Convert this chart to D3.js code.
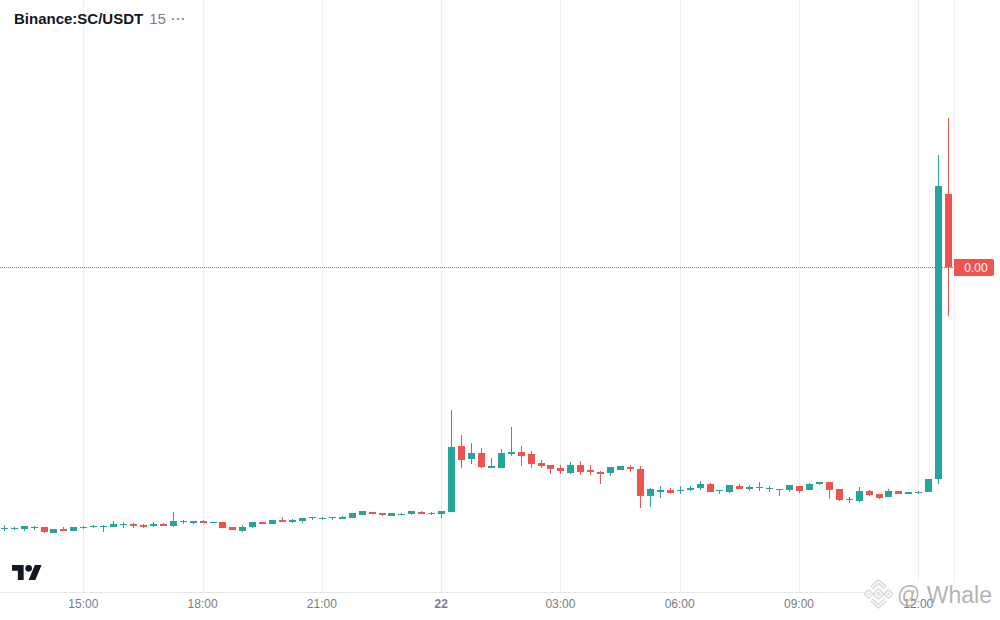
<!DOCTYPE html>
<html><head><meta charset="utf-8">
<script src="https://cdn.jsdelivr.net/npm/d3@7"></script>
<style>html,body{margin:0;padding:0;background:#fff}svg{display:block}text{font-family:"Liberation Sans",Arial,sans-serif}</style>
</head><body><div id="chart"></div>
<script>
// Prices in millionths of a USDT, one candle per 15 minutes from 21 Mar 13:00
const opens=[142,142,142,144,146,134,142,138,144,146,146,146,150,152,150,148,152,148,156,154,158,154,156,146,138,146,156,152,160,156,158,164,162,164,162,164,170,176,174,168,170,172,176,172,172,176,308,282,294,264,264,292,296,292,274,270,264,254,270,260,256,254,260,266,262,208,216,220,218,220,224,232,218,216,228,222,224,222,220,220,228,220,232,236,222,200,198,218,212,206,218,212,214,216,242,812];
const closes=[144,144,148,146,136,142,138,146,146,148,148,152,152,148,146,152,148,158,158,158,154,156,144,140,146,156,152,160,156,160,164,166,164,166,166,174,178,172,170,174,172,178,172,174,178,306,280,294,266,268,294,296,288,272,268,262,258,270,256,256,252,266,268,262,208,222,220,214,220,224,232,216,220,230,222,226,226,224,222,230,218,232,236,220,200,202,218,210,204,218,212,216,216,242,828,665];
const highs=[150,146,148,148,146,142,146,146,148,150,150,158,156,154,152,156,154,176,160,158,160,156,156,146,150,156,156,160,166,162,164,166,166,166,168,174,178,176,174,174,174,178,178,176,178,380,330,314,304,284,302,346,308,298,280,270,270,276,278,270,258,266,268,270,268,224,228,224,228,228,238,234,220,230,232,230,236,228,222,230,228,234,236,236,222,206,226,220,212,222,218,216,218,242,890,964];
const lows=[138,140,138,140,134,134,138,138,142,144,136,146,144,144,144,146,148,146,152,152,154,154,144,140,136,144,152,152,156,154,154,160,160,160,162,164,170,172,168,168,170,170,172,170,164,176,264,272,264,264,264,288,268,264,264,252,252,252,250,250,232,248,260,256,184,186,204,212,212,218,220,216,212,214,222,218,218,216,208,216,214,220,230,202,198,194,196,208,202,206,212,212,212,216,232,568];
const tickTimes=["2024-03-21T15:00","2024-03-21T18:00","2024-03-21T21:00","2024-03-22T00:00","2024-03-22T03:00","2024-03-22T06:00","2024-03-22T09:00","2024-03-22T12:00"];
const tickLabels=["15:00","18:00","21:00","22","03:00","06:00","09:00","12:00"];
const startTime="2024-03-21T13:00";
const titleText="Binance:SC/USDT", intervalText="15", watermarkText="@ Whale";
const upColor="#26a69a", downColor="#ef5350";
const W=1000,H=620,plotR=954,plotB=592;

const t0=new Date(startTime).getTime(), step=15*60*1000;
const times=opens.map((_,i)=>new Date(t0+i*step));
const svg=d3.select("#chart").append("svg").attr("width",W).attr("height",H);
const x=d3.scaleTime().domain([new Date(t0+8*step),new Date(t0+92*step)]).range([83.3,918.26]);
const y=d3.scaleLinear().domain([0,1200]).range([600,0]);
const tickDates=tickTimes.map(d=>new Date(d));

// vertical grid
const gridAxis=d3.axisBottom(x).tickValues(tickDates).tickFormat("").tickSize(0).offset(0);
const grid=svg.append("g").attr("transform",`translate(0,${plotB})`).call(gridAxis);
grid.select(".domain").remove();
grid.selectAll(".tick").append("rect").attr("x",d=>Math.round(x(d))-x(d)).attr("width",1).attr("y",-plotB).attr("height",plotB).attr("fill","#eeeeee");
svg.append("rect").attr("x",0).attr("y",plotB).attr("width",plotR).attr("height",1).attr("fill","#e6e6e6");
svg.append("rect").attr("x",plotR).attr("y",0).attr("width",1).attr("height",plotB).attr("fill","#eeeeee");

// price line
const last=closes.length-1;
const lastColor=closes[last]<opens[last]?downColor:upColor;
svg.append("line").attr("x1",0).attr("x2",plotR).attr("y1",Math.floor(y(closes[last]))+.5).attr("y2",Math.floor(y(closes[last]))+.5)
  .attr("stroke",lastColor).attr("stroke-dasharray","1 1");

// candles
const c=svg.append("g").selectAll("g").data(times).join("g")
  .attr("fill",(d,i)=>closes[i]>=opens[i]?upColor:downColor);
c.append("rect").attr("x",d=>Math.round(x(d))).attr("width",1)
  .attr("y",(d,i)=>y(highs[i])).attr("height",(d,i)=>y(lows[i])-y(highs[i]));
c.append("rect").attr("x",d=>Math.round(x(d))-3).attr("width",7)
  .attr("y",(d,i)=>y(Math.max(opens[i],closes[i])))
  .attr("height",(d,i)=>Math.max(1,Math.abs(y(opens[i])-y(closes[i]))));

// price label
const ly=Math.floor(y(closes[last]));
svg.append("path").attr("fill",lastColor)
  .attr("d",`M${plotR} ${ly-8}H${plotR+38}a2 2 0 0 1 2 2V${ly+7}a2 2 0 0 1 -2 2H${plotR}Z`);
svg.append("text").attr("x",plotR+22).attr("y",ly+4.5).attr("text-anchor","middle").attr("font-size",12)
  .attr("fill","#fff").text(d3.format(".2f")(closes[last]/1e6));

// title
const tg=svg.append("text").attr("x",14).attr("y",24);
tg.append("tspan").attr("font-size",15).attr("font-weight","bold").attr("fill","#131722").text(titleText);
tg.append("tspan").attr("dx",6).attr("font-size",15).attr("fill","#787b86").text(intervalText);
const dots=svg.append("g").attr("fill","#6a7a90");
[173,178,183].forEach(cx=>dots.append("circle").attr("cx",cx).attr("cy",19).attr("r",1));

// TradingView mark
const logo=svg.append("g").attr("transform","translate(12,561.7) scale(.833)").attr("fill","#131722");
logo.append("path").attr("d","M14 22H7V11H0V4h14v18zM28 22h-8l7.5-18h8L28 22z");
logo.append("circle").attr("cx",20).attr("cy",8).attr("r",4);

// white halo of the watermark wipes the axis line and grid ends
svg.append("rect").attr("x",864).attr("y",582).attr("width",plotR+1-864).attr("height",12).attr("fill","#fff");
const binPaths=["M-7 -6L0 -12.5L7 -6M-7 6L0 12.5L7 6","M-12.5 0L-10 -2.5L-7.5 0L-10 2.5ZM12.5 0L10 -2.5L7.5 0L10 2.5ZM0 -3.5L3.5 0L0 3.5L-3.5 0Z"];
function drawBin(stroke,width){
  const b=svg.append("g").attr("transform","translate(878.5,594)").attr("fill","none").attr("stroke",stroke).attr("stroke-width",width).attr("stroke-linejoin","round");
  binPaths.forEach(p=>b.append("path").attr("d",p));
}

// x axis labels
const axis=d3.axisBottom(x).tickValues(tickDates)
  .tickFormat((d,i)=>tickLabels[i]).tickSize(0).tickPadding(7).offset(0);
const ax=svg.append("g").attr("transform",`translate(0,${plotB})`).call(axis);
ax.select(".domain").remove();
ax.selectAll("text").attr("font-size",12).attr("fill","#787b86")
  .attr("font-weight",(d,i)=>tickLabels[i]==="22"?"bold":"normal")
  .style("font-family",'"Liberation Sans",Arial,sans-serif');

// watermark marks
drawBin("#d6d6d6",4);
drawBin("#fbfbfb",1.6);
svg.append("text").attr("x",897).attr("y",603).attr("font-size",23)
  .attr("fill","#a6a6a6").attr("fill-opacity",.85)
  .style("font-family",'"Liberation Sans",Arial,sans-serif').text(watermarkText);
</script></body></html>
